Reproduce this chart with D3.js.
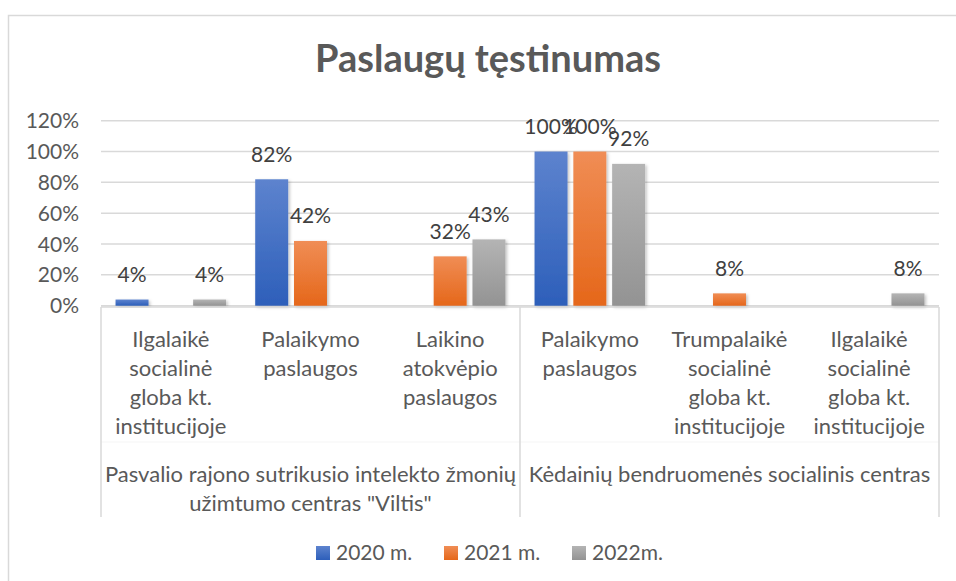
<!DOCTYPE html>
<html>
<head>
<meta charset="utf-8">
<script src="https://cdn.jsdelivr.net/npm/d3@7"></script>
<style>
  body { margin: 0; background: #fff; }
  svg { display: block; font-family: Lato, "Open Sans", sans-serif; }
</style>
</head>
<body>
<svg id="chart" width="956" height="581"></svg>
<script>
// chart data
const categories = [
    ["Ilgalaikė", "socialinė", "globa kt.", "institucijoje"],
    ["Palaikymo", "paslaugos"],
    ["Laikino", "atokvėpio", "paslaugos"],
    ["Palaikymo", "paslaugos"],
    ["Trumpalaikė", "socialinė", "globa kt.", "institucijoje"],
    ["Ilgalaikė", "socialinė", "globa kt.", "institucijoje"]
];
const groups = [
    { label: ["Pasvalio rajono sutrikusio intelekto žmonių", "užimtumo centras \"Viltis\""], from: 0, to: 2 },
    { label: ["Kėdainių bendruomenės socialinis centras"], from: 3, to: 5 }
];
const seriesNames = ["2020 m.", "2021 m.", "2022m."];
const values2020 = [0.04, 0.82, null, 1.00, null, null];
const values2021 = [null, 0.42, 0.32, 1.00, 0.08, null];
const values2022 = [0.04, null, 0.43, 0.92, null, 0.08];
const yTicks = [0, 0.2, 0.4, 0.6, 0.8, 1.0, 1.2];

const series = [values2020, values2021, values2022];
const colors = [
    { top: "#5d83ce", bottom: "#2d5fba" },
    { top: "#f08d55", bottom: "#e5671a" },
    { top: "#b4b4b4", bottom: "#939393" }
];

const svg = d3.select("#chart");

// outer chart border (runs off the right and bottom edge)
svg.append("rect")
    .attr("x", 8.5).attr("y", 15.5)
    .attr("width", 960).attr("height", 600)
    .attr("fill", "#fff")
    .attr("stroke", "#d9d9d9")
    .attr("stroke-width", 1.5);

// gradients and shadow
const defs = svg.append("defs");
colors.forEach((c, i) => {
    const g = defs.append("linearGradient")
        .attr("id", "grad" + i)
        .attr("x1", 0).attr("y1", 0).attr("x2", 0).attr("y2", 1);
    g.append("stop").attr("offset", "0%").attr("stop-color", c.top);
    g.append("stop").attr("offset", "100%").attr("stop-color", c.bottom);
});
const shadow = defs.append("filter").attr("id", "shadow")
    .attr("x", "-20%").attr("y", "-20%").attr("width", "150%").attr("height", "150%");
shadow.append("feDropShadow")
    .attr("dx", 1.5).attr("dy", 1.5).attr("stdDeviation", 1.5)
    .attr("flood-color", "#000").attr("flood-opacity", 0.25);

// title
svg.append("text")
    .attr("x", 488).attr("y", 72)
    .attr("text-anchor", "middle")
    .attr("font-size", 38)
    .attr("font-weight", "bold")
    .attr("fill", "#595959")
    .text("Paslaugų tęstinumas");

// scales
const left = 101, right = 939;
const x = d3.scaleBand()
    .domain(d3.range(categories.length))
    .range([left, right]);
const xSub = d3.scaleBand()
    .domain(d3.range(series.length))
    .range([0, x.bandwidth()])
    .paddingInner(0.15)
    .paddingOuter(0.375);
const y = d3.scaleLinear()
    .domain([0, 1.2])
    .range([305.7, 120.7]);

// gridlines
svg.append("g")
    .selectAll("line")
    .data(yTicks)
    .enter()
    .append("line")
    .attr("x1", left).attr("x2", right)
    .attr("y1", d => y(d)).attr("y2", d => y(d))
    .attr("stroke", "#d9d9d9")
    .attr("stroke-width", 1.5);

// y axis labels
svg.append("g")
    .selectAll("text")
    .data(yTicks)
    .enter()
    .append("text")
    .attr("x", 79)
    .attr("y", d => y(d) + 7.5)
    .attr("text-anchor", "end")
    .attr("font-size", 21)
    .attr("fill", "#595959")
    .text(d => d3.format(".0%")(d));

// bars
const barData = [];
series.forEach((vals, s) => {
    vals.forEach((v, c) => {
        if (v !== null) barData.push({ s: s, c: c, v: v });
    });
});

svg.append("g")
    .selectAll("rect")
    .data(barData)
    .enter()
    .append("rect")
    .attr("x", d => x(d.c) + xSub(d.s))
    .attr("y", d => y(d.v))
    .attr("width", xSub.bandwidth())
    .attr("height", d => y(0) - y(d.v))
    .attr("fill", d => "url(#grad" + d.s + ")")
    .attr("filter", "url(#shadow)");

// value labels
svg.append("g")
    .selectAll("text")
    .data(barData)
    .enter()
    .append("text")
    .attr("x", d => x(d.c) + xSub(d.s) + xSub.bandwidth() / 2)
    .attr("y", d => y(d.v) - 17.5)
    .attr("text-anchor", "middle")
    .attr("font-size", 21)
    .attr("fill", "#404040")
    .text(d => d3.format(".0%")(d.v));

// category axis (two levels)
const axisTop = 307, axisBottom = 517;
const axisG = svg.append("g");
axisG.append("line")
    .attr("x1", left).attr("x2", right)
    .attr("y1", axisTop).attr("y2", axisTop)
    .attr("stroke", "#d9d9d9").attr("stroke-width", 1.5);
axisG.append("line")
    .attr("x1", left).attr("x2", right)
    .attr("y1", 442).attr("y2", 442)
    .attr("stroke", "#f5f5f5").attr("stroke-width", 1);
const dividers = [left].concat(groups.map(g => x(g.to) + x.bandwidth()));
axisG.selectAll(".div")
    .data(dividers)
    .enter()
    .append("line")
    .attr("class", "div")
    .attr("x1", d => d).attr("x2", d => d)
    .attr("y1", axisTop).attr("y2", axisBottom)
    .attr("stroke", "#d9d9d9").attr("stroke-width", 1.5);

const catText = axisG.selectAll(".cat")
    .data(categories)
    .enter()
    .append("text")
    .attr("class", "cat")
    .attr("text-anchor", "middle")
    .attr("font-size", 22)
    .attr("fill", "#595959");
catText.selectAll("tspan")
    .data((d, i) => d.map(t => ({ t: t, i: i })))
    .enter()
    .append("tspan")
    .attr("x", d => x(d.i) + x.bandwidth() / 2)
    .attr("y", (d, j) => 346.5 + j * 29.2)
    .text(d => d.t);

const grpText = axisG.selectAll(".grp")
    .data(groups)
    .enter()
    .append("text")
    .attr("class", "grp")
    .attr("text-anchor", "middle")
    .attr("font-size", 22)
    .attr("fill", "#595959");
grpText.selectAll("tspan")
    .data(g => g.label.map(t => ({ t: t, cx: (x(g.from) + x(g.to) + x.bandwidth()) / 2 })))
    .enter()
    .append("tspan")
    .attr("x", d => d.cx)
    .attr("y", (d, j) => 481.5 + j * 29.2)
    .text(d => d.t);

// legend
const legendX = [316, 444, 572];
const legend = svg.append("g")
    .selectAll("g")
    .data(seriesNames)
    .enter()
    .append("g")
    .attr("transform", (d, i) => "translate(" + legendX[i] + ",546)");
legend.append("rect")
    .attr("width", 14).attr("height", 14)
    .attr("fill", (d, i) => "url(#grad" + i + ")");
legend.append("text")
    .attr("x", 20).attr("y", 14)
    .attr("font-size", 21)
    .attr("fill", "#595959")
    .text(d => d);
</script>
</body>
</html>
